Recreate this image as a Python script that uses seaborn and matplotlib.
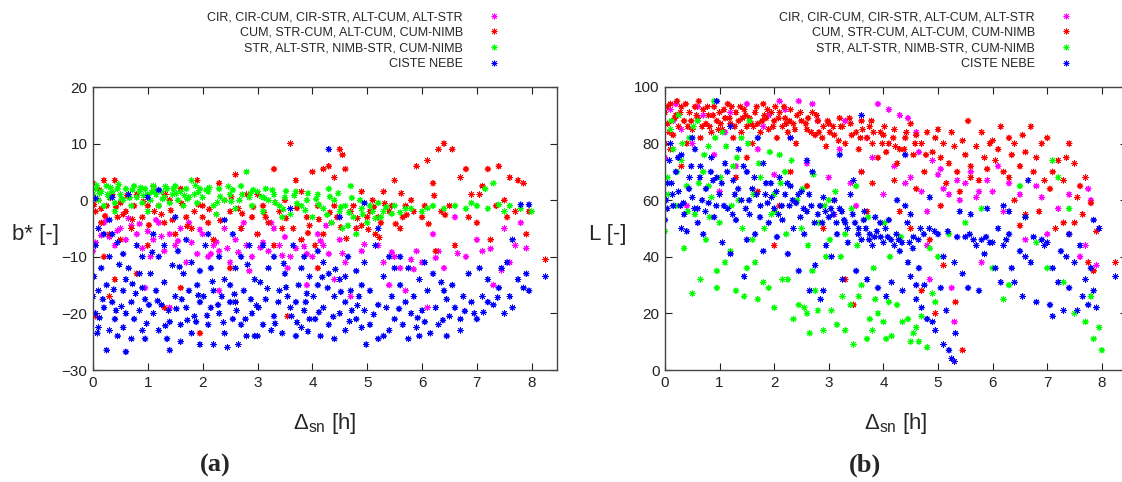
import matplotlib
matplotlib.use("Agg")
import matplotlib.pyplot as plt
import seaborn as sns
import pandas as pd

# ---------------- data ----------------
labels = ["CIR, CIR-CUM, CIR-STR, ALT-CUM, ALT-STR",
          "CUM, STR-CUM, ALT-CUM, CUM-NIMB",
          "STR, ALT-STR, NIMB-STR, CUM-NIMB",
          "CISTE NEBE"]
colors = ["#ff00ff", "#ff0000", "#00ff00", "#0000ff"]

x_ticks = [0, 1, 2, 3, 4, 5, 6, 7, 8]
a_y_ticks = [-30, -20, -10, 0, 10, 20]
b_y_ticks = [0, 20, 40, 60, 80, 100]

# panel (a): b* vs delta_sn
a_magenta = [(0.1,-5),(0.05,-7.5),(0.0,-9),(0.2,-4),(0.3,-6.5),(0.4,-8),(0.5,-5),(0.6,-7),(0.7,-4.5),(0.8,-6),
             (0.9,-8.5),(0.95,-15.5),(1.0,-5.5),(1.1,-7),(1.2,-4),(1.3,-9),(1.4,-6),(1.5,-8),(1.6,-5),(1.7,-11),
             (1.8,-7.5),(1.9,-9.5),(2.0,-6),(2.1,-10),(2.2,-8),(2.3,-9),(2.4,-5),(2.5,-11),(2.6,-7),(2.7,-5),
             (2.8,-8),(2.9,-10),(3.0,-6),(3.1,-7.5),(3.2,-9),(3.3,-5),(3.4,-8),(3.5,-6.5),(3.6,-10),(3.7,-8.5),
             (3.8,-7),(3.9,-9.5),(4.0,-10),(4.1,-6),(4.2,-8),(4.3,-9.5),(4.4,-14),(4.5,-7),(4.6,-11),(4.7,-17),
             (4.8,-5),(4.9,-9),(5.2,-8),(5.3,-11),(5.5,-10),(5.6,-12),(5.7,-16),(5.8,-10.5),(5.9,-9),(6.0,-11),
             (6.1,-19),(6.2,-6),(6.4,-12),(6.6,-3),(6.8,-10),(7.0,-7),(7.1,-9),(7.3,-15),(7.5,-5),(7.7,-8),
             (7.8,-4),(7.9,-8.5),(7.6,-11),(6.3,-9),(5.4,-15),(3.9,-15),(2.3,-16),(1.4,-19),(2.15,-9.5),(2.45,-8.5),
             (0.25,-3.5),(0.65,-3.2),(1.15,-3.5),(1.75,-4),(2.75,-4),(3.25,-4),(4.25,-4.5),(3.55,-12),(2.85,-12.5),(1.05,-10),
             (0.15,-6.2),(0.45,-5.4),(0.85,-4.2),(1.25,-6.4),(1.55,-7.2),(1.95,-5.2),(2.25,-7.4),(2.65,-9.2),(3.05,-8.4),(3.45,-9.8),
             (3.85,-8.2),(4.15,-7.2),(4.55,-9.4),(4.95,-7.8),(5.45,-9.2),(5.85,-12.2),(6.25,-10.2),(6.65,-9.4),(7.25,-8.6),(7.45,-12.4)]
a_red = [(0.0,3),(0.05,-2),(0.1,0),(0.15,-4),(0.2,3.5),(0.25,-1),(0.3,-6),(0.35,1),(0.4,3.5),(0.45,-3),
         (0.5,-7),(0.6,-2),(0.7,-5),(0.8,1),(0.9,-3),(1.0,-8),(1.1,2.5),(1.2,-1),(1.3,-4),(1.4,0),
         (1.5,-6),(1.6,2),(1.7,-3),(1.8,-5),(1.9,3.5),(2.0,-1),(2.1,-4),(2.2,-7),(2.3,3),(2.4,0),
         (2.5,-2),(2.6,4.5),(2.7,-5),(2.8,1),(2.9,-3),(3.0,-6),(3.1,-1),(3.2,-4),(3.3,5.5),(3.4,-2),
         (3.5,0),(3.6,10),(3.65,-5),(3.7,3.5),(3.8,-7),(3.9,-3),(4.0,5),(4.05,-8),(4.1,-1),(4.2,5.5),
         (4.3,6),(4.35,-4),(4.4,4),(4.5,9),(4.55,8),(4.6,5.5),(4.7,-2),(4.8,-5),(4.9,1.5),(5.0,-3),
         (5.1,0),(5.15,-6),(5.3,1.5),(5.4,-2),(5.5,3.5),(5.6,-5),(5.7,-1),(5.8,0),(5.9,6),(6.0,-3),
         (6.1,7),(6.2,3),(6.25,-9),(6.3,9),(6.4,10),(6.5,-1),(6.55,9),(6.6,-8),(6.7,4),(6.8,5.5),
         (6.9,1),(7.0,-4),(7.1,2.5),(7.2,5.5),(7.25,-7),(7.4,6),(7.5,0),(7.6,4),(7.7,-2),(7.75,3.5),
         (7.9,-6),(7.85,3),(8.25,-10.5),(0.05,-20.5),(1.95,-23.5),(0.3,-17),(1.3,-19),(0.2,-10),(0.8,-13),(1.6,-15.5),
         (0.4,-14),(2.5,-12),(3.3,-8),(3.55,-20.5),(2.6,-18),(4.1,-12),(2.0,-3),(1.0,-1),(0.5,-0.5),(3.0,1),
         (4.4,-1),(4.9,-4.5),(5.2,-3),(4.2,-6),(3.8,1.5),(0.15,-1.5),(0.55,-2.5),(0.75,-1),(1.25,-2.5),(1.45,-3.5),
         (1.85,-2),(2.25,-2.5),(2.65,-1.5),(3.15,-3),(3.45,-5),(3.95,-4.5),(4.45,-3),(4.75,-1),(5.05,-2),(5.25,-4),
         (5.45,-1),(5.65,-3),(5.85,-2),(6.05,-1),(6.35,-2),(6.85,-3),(7.05,1),(7.35,-1),(7.55,-3),(7.95,-2),
         (0.02,-0.8),(0.12,1.8),(0.22,-2.8),(0.32,0.4),(0.42,-1.2),(0.62,0.8),(0.72,-3.4),(0.92,-0.2),(1.02,-4.4),(1.12,-2),
         (1.32,1),(1.42,-1.8),(1.62,-0.6),(1.72,-4.6),(1.92,-0.8),(2.12,-1.6),(2.32,-3.6),(2.52,0.6),(2.72,-2.4),(2.92,-1.2),
         (3.12,-2.2),(3.32,-0.4),(3.52,-3.2),(3.72,-1.4),(3.92,-5.8),(4.12,-3.4),(4.32,-2.2),(4.52,-4.8),(4.62,-6.8),(4.82,-3.2),
         (5.02,-5.2),(5.12,-1.2),(5.22,-6.6),(5.32,-0.6),(5.52,-4.2),(5.62,1.2),(5.72,-2.6),(6.12,-4.2),(6.22,0.8),(6.42,-2.6)]
a_green = [(0.0,1),(0.05,2),(0.1,0),(0.15,1.5),(0.2,-1),(0.25,2.5),(0.3,0.5),(0.35,1.5),(0.4,-0.5),(0.45,2),
           (0.5,1),(0.55,0),(0.6,2),(0.65,1),(0.7,-1),(0.75,2.5),(0.8,0.5),(0.85,1.5),(0.9,-0.5),(0.95,2),
           (1.0,1),(1.05,0),(1.1,2.5),(1.15,1),(1.2,-1),(1.25,1.5),(1.3,0.5),(1.35,2),(1.4,-0.5),(1.45,1),
           (1.5,2.5),(1.55,0),(1.6,1.5),(1.65,-1),(1.7,2),(1.75,0.5),(1.8,3.5),(1.85,1),(1.9,-0.5),(1.95,2),
           (2.0,0.5),(2.1,1.5),(2.2,-1),(2.3,2),(2.4,0),(2.5,1),(2.6,-1.5),(2.7,2.5),(2.8,5),(2.85,0.5),
           (2.9,-1),(3.0,1.5),(3.1,-2),(3.2,0),(3.3,1),(3.4,-1),(3.5,0.5),(3.6,-2.5),(3.7,1.5),(3.8,-1),
           (3.9,0),(4.0,-3),(4.1,1),(4.2,-1.5),(4.3,2),(4.35,-4),(4.4,0),(4.5,-2),(4.55,-5),(4.6,-1),
           (4.7,2.5),(4.75,-3),(4.8,-6),(4.9,-1.5),(5.0,-4),(5.1,-2),(5.2,-0.5),(5.3,-2),(5.5,-1),(5.8,-1.5),
           (6.0,-2),(6.2,-1),(6.4,-1.5),(6.6,-1),(6.8,-1.5),(7.0,-1),(7.15,2),(7.3,3),(7.5,-2),(7.6,-1),
           (7.8,-1.5),(8.0,-2),(7.2,-1.5),(6.9,-0.5),(5.7,-1.5),(3.15,2),(2.55,1.8),(0.4,-2),(1.0,-2),(3.45,-3),
           (2.25,-2.5),(4.65,-4.5),(0.12,1.2),(0.32,2.2),(0.52,0.2),(0.72,1.8),(0.92,0.8),(1.12,1.6),(1.32,2.4),(1.52,1.2),
           (1.72,0.2),(1.92,1.4),(2.12,2.2),(2.32,0.6),(2.52,-0.2),(2.72,1.0),(2.92,1.8),(3.12,0.4),(3.32,-0.4),(3.52,1.6),
           (3.72,-0.6),(3.92,1.2),(4.12,-0.8),(4.32,0.6),(4.52,-1.2),(4.72,0.4),(4.92,-2.5),(5.15,-3.2),(5.35,-1.2),(5.6,-2.2),
           (0.07,2.6),(0.27,1.0),(0.47,2.8),(0.67,0.4),(0.87,2.2),(1.07,1.4),(1.27,0.2),(1.47,2.0),(1.67,0.8),(1.87,2.6),
           (2.07,1.8),(2.27,-0.4),(2.47,2.4),(2.67,0.0),(2.87,1.2),(3.07,0.6),(3.27,1.8),(3.47,-1.6),(3.67,0.8),(3.87,-1.8),
           (4.07,0.2),(4.27,-2.6),(4.47,1.2),(4.67,-2.2),(4.87,0.0),(5.05,-1.0),(5.25,-3.0),(5.45,-2.4),(6.1,-1.4),(7.4,-0.8)]
a_blue = [(0.1,-5),(0.2,-6),(0.05,-8),(0.3,-10),(0.15,-12),(0.02,-13.5),(0.25,-15),(0.1,-16),(0.0,-17),(0.35,-18),
          (0.2,-19),(0.05,-20),(0.4,-21),(0.1,-22.5),(0.08,-23.5),(0.3,-23),(0.45,-24),(0.25,-26.5),(0.6,-26.8),(0.55,-22.5),
          (0.7,-24.5),(0.6,-20),(0.7,-18),(0.55,-16),(0.6,-14),(0.65,-12),(0.55,-9.5),(0.45,-7.5),(0.35,-6),(0.8,-8),
          (0.9,-10),(0.85,-13),(0.9,-15.5),(0.95,-17.5),(0.85,-19.5),(0.75,-21),(0.9,-23),(0.95,-24.5),(0.35,0.5),(0.65,1),
          (0.05,0.3),(0.3,-3.5),(1.1,-6),(1.3,-8),(1.2,-10),(1.45,-11.5),(1.05,-13),(1.3,-14.5),(1.15,-16),(1.5,-17),
          (1.25,-18.5),(1.1,-20),(1.4,-21.5),(1.2,-23),(1.35,-24.5),(1.4,-26.5),(1.6,-25),(1.6,-22),(1.7,-19),(1.75,-16),
          (1.65,-13),(1.8,-11),(1.55,-9),(1.7,-7),(1.9,-15),(1.95,-18),(1.85,-20.5),(1.8,-23.5),(1.95,-25.5),(1.95,-12.5),
          (1.2,1.8),(1.0,0.5),(1.5,-3),(2.1,-6),(2.05,-8),(2.3,-10),(2.15,-12),(2.4,-14),(2.2,-16),(2.5,-18),
          (2.3,-20),(2.1,-22),(2.4,-23.5),(2.2,-25.5),(2.45,-26),(2.65,-25.5),(2.8,-24),(2.7,-22),(2.9,-20),(2.6,-18),
          (2.75,-16),(2.95,-14),(2.6,-12),(2.7,-10),(2.85,-8),(2.55,-6),(2.4,-3.5),(2.95,-24),(2.15,-19),(2.35,-17),
          (2.55,-21),(2.5,-15),(3.1,-8),(3.3,-10),(3.2,-12),(3.5,-13),(3.05,-14.5),(3.4,-16),(3.15,-17.5),(3.6,-19),
          (3.3,-20.5),(3.1,-22),(3.45,-23.5),(3.7,-24),(3.8,-22.5),(3.95,-21),(3.85,-19.5),(3.7,-18),(3.9,-16.5),(3.75,-15),
          (3.95,-13.5),(3.8,-12),(3.85,-10),(3.65,-8),(3.6,-1.5),(3.25,-23),(3.0,-24),(3.55,-17),(4.1,-9),(4.2,-11),
          (4.3,-13),(4.5,-14),(4.1,-15),(4.7,-16),(4.4,-17),(4.6,-18),(4.2,-19),(4.5,-20),(4.8,-21),(4.3,-22),
          (4.6,-23),(4.15,-24),(4.4,-24.5),(4.9,-22.5),(4.05,-21),(4.8,-12.5),(4.95,-11),(4.65,-10),(4.9,-15),(4.6,-13.5),
          (4.3,9),(4.5,-3),(4.95,-0.5),(4.98,-25.5),(4.85,-17),(4.95,-19.5),(5.2,-5),(5.15,-8),(5.4,-10),(5.5,-12),
          (5.3,-13.5),(5.6,-15),(5.05,-16),(5.45,-17),(5.7,-18),(5.35,-19),(5.8,-20),(5.5,-21),(5.65,-22),(5.4,-23),
          (5.3,-24),(5.2,-24.5),(5.75,-24.5),(5.95,-24),(5.9,-22.5),(6.0,-19.5),(5.85,-17),(5.95,-14),(5.75,-12),(5.6,-10),
          (5.05,-22),(5.2,-18.5),(6.05,-11),(6.2,-13),(6.35,-14.5),(6.1,-16),(6.45,-17.5),(6.25,-19),(6.5,-20.5),(6.3,-22),
          (6.15,-23.5),(6.45,-24),(6.7,-21),(6.6,-19),(6.75,-17),(6.55,-15),(6.85,-13),(6.9,-18),(6.95,-20),(6.7,-23),
          (6.4,-16),(6.05,-21.5),(7.05,-12),(7.2,-14),(7.4,-15.5),(7.1,-17),(7.3,-18.5),(7.5,-20),(7.0,-21),(7.65,-19),
          (7.6,-17),(7.85,-15.5),(7.75,-14),(7.9,-13),(7.95,-16),(7.45,-12),(7.65,-7),(7.8,-0.8),(7.95,-0.8),(8.25,-13.5),
          (7.2,-18),(7.55,-11),(0.18,-17.5),(0.42,-19.5),(0.78,-16.5),(1.02,-18.5),(1.38,-19.5),(1.62,-17.5),(1.88,-21.5),(2.02,-17),
          (2.28,-18.5),(2.62,-19.5),(2.88,-17.5),(3.02,-19),(3.38,-18),(3.62,-20.5),(3.88,-18),(4.02,-17),(4.28,-15.5),(4.72,-19.5),
          (0.12,-20.8),(0.38,-15.8),(0.52,-18.8),(0.72,-14.8),(0.98,-21.8),(1.18,-17.8),(1.32,-22.2),(1.52,-19.2),(1.72,-21.2),(1.92,-16.8),
          (2.08,-20.4),(2.18,-14.4),(2.38,-21.6),(2.58,-16.6),(2.78,-21.0),(2.98,-18.6),(3.18,-15.6),(3.32,-21.8),(3.52,-15.4),(3.72,-21.6),
          (3.92,-23.2),(4.12,-19.8),(4.38,-20.6),(4.52,-16.2),(4.68,-21.4),(4.82,-18.6),(4.42,-12.2),(4.18,-13.6),(3.48,-11.2),(2.82,-11.4),
          (1.58,-11.8),(1.08,-9.2),(0.48,-11.4),(5.12,-20.2),(5.58,-19.2),(5.92,-20.8),(6.38,-21.2),(6.78,-19.6),(7.12,-19.8),(7.38,-17.2)]

# panel (b): L vs delta_sn
b_magenta = [(0.0,75),(0.1,92),(0.2,94),(0.3,85),(0.5,80),(0.7,90),(0.9,76),(1.1,84),(1.3,72),(1.5,94),
             (1.7,78),(1.9,90),(2.1,95),(2.3,82),(2.45,95),(2.6,73),(2.8,88),(3.0,68),(3.2,78),(3.4,66),
             (3.6,70),(3.8,75),(3.9,94),(4.0,62),(4.1,92),(4.3,90),(4.2,72),(4.4,66),(4.5,68),(4.6,84),
             (4.7,63),(4.8,56),(4.9,74),(5.0,69),(5.1,64),(5.2,62),(5.3,17),(5.25,29),(5.4,60),(5.5,66),
             (5.6,70),(5.7,61),(5.8,38),(5.9,67),(6.0,63),(6.1,72),(6.3,66),(6.5,62),(6.6,46),(6.8,65),
             (6.9,61),(7.0,48),(7.2,57),(7.4,62),(7.6,40),(7.7,44),(7.8,60),(7.75,64),(7.9,37),(1.0,63),
             (2.0,69),(0.4,58),(3.1,55),(3.5,58),(6.2,56),(4.8,44),(4.85,32),(0.15,88),(0.6,93),(1.2,91),
             (1.8,86),(2.2,92),(2.7,94),(3.3,88),(3.7,82),(4.45,89),(4.65,77),(5.05,71),(5.35,67),(5.75,63)]
b_red = [(0.0,91),(0.05,87),(0.1,94),(0.15,83),(0.2,90),(0.25,86),(0.3,93),(0.35,88),(0.4,80),(0.45,91),
         (0.5,85),(0.55,93),(0.6,89),(0.65,82),(0.7,92),(0.75,87),(0.8,90),(0.85,84),(0.9,93),(0.95,88),
         (0.1,78),(0.3,72),(0.0,80),(1.0,91),(1.05,85),(1.1,89),(1.15,94),(1.2,87),(1.25,82),(1.3,91),
         (1.35,88),(1.4,84),(1.45,92),(1.5,86),(1.55,89),(1.6,80),(1.65,91),(1.7,87),(1.75,84),(1.8,94),
         (1.85,89),(1.9,85),(1.95,91),(1.3,68),(1.7,63),(1.5,75),(2.0,88),(2.05,82),(2.1,91),(2.15,86),
         (2.2,89),(2.25,84),(2.3,92),(2.35,87),(2.4,80),(2.5,88),(2.6,85),(2.7,91),(2.75,83),(2.8,88),
         (2.9,86),(2.95,79),(2.3,70),(2.6,65),(2.1,58),(2.9,50),(2.0,44),(3.0,87),(3.1,83),(3.2,89),
         (3.25,86),(3.3,80),(3.4,87),(3.5,84),(3.55,78),(3.6,88),(3.7,82),(3.75,86),(3.8,80),(3.9,75),
         (3.95,84),(3.3,32),(3.6,70),(3.8,66),(3.45,23),(3.1,60),(3.7,56),(4.0,83),(4.05,77),(4.1,80),
         (4.2,85),(4.25,73),(4.3,78),(4.4,82),(4.5,87),(4.55,76),(4.6,83),(4.7,80),(4.75,70),(4.8,84),
         (4.9,77),(4.95,82),(4.2,67),(4.6,64),(4.85,46),(4.7,28),(4.95,20),(4.3,56),(4.5,50),(5.0,85),
         (5.05,75),(5.1,80),(5.15,66),(5.2,73),(5.25,84),(5.3,79),(5.35,70),(5.4,63),(5.45,81),(5.5,76),
         (5.55,88),(5.6,72),(5.7,79),(5.75,67),(5.8,84),(5.85,75),(5.9,71),(5.95,80),(5.3,3),(5.32,24),
         (5.1,37),(5.45,7),(5.6,68),(5.05,58),(6.0,81),(6.05,74),(6.1,78),(6.15,86),(6.2,70),(6.3,82),
         (6.35,76),(6.4,80),(6.5,72),(6.55,83),(6.6,77),(6.7,86),(6.75,70),(6.8,75),(6.9,80),(6.95,67),
         (6.4,60),(6.6,55),(6.5,51),(6.85,56),(6.3,68),(7.0,82),(7.05,64),(7.1,70),(7.2,74),(7.3,67),
         (7.35,75),(7.4,80),(7.5,73),(7.55,61),(7.6,65),(7.65,55),(7.7,68),(7.8,59),(7.9,49),(7.85,35),
         (7.75,38),(7.5,52),(7.3,52),(7.15,50),(8.25,38),(7.95,50),(7.4,48),(0.08,84),(0.22,95),(0.42,86),
         (0.62,95),(0.82,86),(1.02,87),(1.22,93),(1.42,89),(1.62,86),(1.82,90),(2.02,93),(2.22,87),(2.42,90),
         (2.62,89),(2.82,84),(3.02,84),(3.22,86),(3.42,83),(3.62,85),(3.82,84),(4.02,86),(4.22,79),(4.42,84),
         (0.04,93),(0.18,89),(0.28,91),(0.38,94),(0.48,88),(0.58,90),(0.68,86),(0.78,93),(0.88,90),(0.98,85),
         (1.08,92),(1.18,89),(1.28,86),(1.38,93),(1.48,90),(1.58,87),(1.68,93),(1.78,88),(1.88,92),(1.98,86),
         (2.08,89),(2.18,93),(2.28,88),(2.38,85),(2.48,91),(2.58,87),(2.68,84),(2.78,90),(2.88,82),(2.98,88),
         (3.08,86),(3.18,81),(3.38,89),(3.58,82),(3.78,88),(3.98,80),(4.18,82),(4.38,78),(4.58,80),(4.78,76)]
b_green = [(0.0,49),(0.05,68),(0.1,85),(0.15,78),(0.2,58),(0.25,90),(0.3,74),(0.35,43),(0.4,65),(0.45,82),
           (0.5,27),(0.55,55),(0.6,88),(0.65,32),(0.7,70),(0.75,46),(0.8,79),(0.85,61),(0.9,95),(0.95,35),
           (0.95,29),(1.0,52),(1.05,84),(1.1,38),(1.2,42),(1.25,72),(1.3,28),(1.35,60),(1.45,26),(1.5,36),
           (1.55,88),(1.6,46),(1.65,38),(1.7,25),(1.75,68),(1.8,31),(1.9,29),(1.95,55),(2.0,22),(2.1,76),
           (2.15,32),(2.25,32),(2.35,18),(2.45,23),(2.5,50),(2.55,22),(2.6,20),(2.65,13),(2.7,35),(2.75,28),
           (2.8,21),(2.9,14),(2.95,40),(3.0,60),(3.05,21),(3.15,16),(3.25,26),(3.3,14),(3.4,23),(3.45,9),
           (3.55,26),(3.6,30),(3.7,11),(3.75,18),(3.8,14),(3.85,25),(3.9,20),(4.0,17),(4.05,11),(4.1,24),
           (4.15,12),(4.25,23),(4.35,17),(4.45,18),(4.5,10),(4.55,13),(4.6,15),(4.65,10),(4.7,19),(4.8,8),
           (4.9,27),(4.95,24),(4.85,43),(5.0,40),(5.2,48),(5.5,52),(5.8,57),(6.0,36),(6.2,25),(6.3,30),
           (6.5,65),(6.6,54),(6.8,45),(7.0,36),(7.1,74),(7.2,68),(7.4,57),(7.5,20),(7.7,17),(7.8,26),
           (7.85,11),(7.95,15),(8.0,7),(7.3,31),(3.5,65),(2.2,70),(1.4,82),(0.8,65),(2.0,62),(3.3,48),
           (0.12,88),(0.32,80),(0.52,86),(0.72,76),(0.92,82),(1.12,79),(1.32,75),(1.52,80),(1.72,73),(1.92,77),
           (2.12,66),(2.32,74),(2.52,64),(2.72,69),(2.92,58),(3.12,63),(3.42,57),(3.72,54),(4.02,52),(4.32,47),
           (0.06,62),(0.22,70),(0.42,56),(0.62,66),(0.82,54),(1.02,68),(1.22,58),(1.42,50),(1.62,62),(1.82,50),
           (2.02,56),(2.22,48),(2.42,60),(2.62,44),(2.82,52),(3.02,46),(3.22,40),(3.52,44),(3.82,36),(4.12,40)]
b_blue = [(0.0,53),(0.02,60),(0.05,66),(0.08,74),(0.1,80),(0.15,58),(0.2,70),(0.25,63),(0.3,76),(0.35,55),
          (0.4,49),(0.45,68),(0.5,61),(0.55,78),(0.6,57),(0.65,72),(0.7,48),(0.75,64),(0.8,59),(0.85,75),
          (0.9,54),(0.95,68),(0.95,95),(0.3,50),(0.6,52),(0.5,82),(1.0,62),(1.05,45),(1.1,73),(1.15,57),
          (1.2,41),(1.25,67),(1.3,53),(1.35,78),(1.4,60),(1.45,33),(1.5,70),(1.55,55),(1.6,64),(1.65,48),
          (1.7,82),(1.75,58),(1.8,42),(1.85,66),(1.9,52),(1.95,61),(1.2,86),(1.5,46),(1.8,73),(2.0,57),
          (2.05,47),(2.1,68),(2.15,53),(2.2,62),(2.25,41),(2.3,65),(2.35,50),(2.4,59),(2.45,35),(2.5,63),
          (2.55,48),(2.6,56),(2.65,28),(2.7,70),(2.75,37),(2.8,55),(2.85,25),(2.9,61),(2.95,44),(2.3,82),
          (2.6,74),(2.9,28),(3.0,54),(3.05,40),(3.1,60),(3.15,48),(3.2,57),(3.25,32),(3.3,52),(3.35,45),
          (3.4,62),(3.5,35),(3.55,50),(3.6,46),(3.65,56),(3.7,32),(3.75,48),(3.8,44),(3.85,54),(3.9,29),
          (3.95,47),(3.6,90),(3.2,76),(3.45,67),(4.0,45),(4.05,26),(4.1,53),(4.15,31),(4.2,44),(4.25,60),
          (4.3,42),(4.35,28),(4.4,58),(4.45,38),(4.5,33),(4.55,47),(4.6,25),(4.65,36),(4.7,22),(4.75,30),
          (4.8,18),(4.85,61),(4.9,17),(4.95,14),(4.5,55),(4.4,76),(4.6,30),(5.0,48),(5.05,29),(5.1,9),
          (5.15,21),(5.2,7),(5.25,4),(5.3,3),(5.32,13),(5.35,47),(5.4,56),(5.45,34),(5.5,47),(5.55,29),
          (5.6,55),(5.65,46),(5.7,44),(5.75,28),(5.8,46),(5.85,41),(5.9,57),(5.95,45),(5.1,40),(5.3,38),
          (6.0,45),(6.05,36),(6.1,50),(6.15,31),(6.2,44),(6.3,48),(6.35,36),(6.4,31),(6.5,42),(6.55,26),
          (6.6,40),(6.65,67),(6.7,38),(6.75,47),(6.8,24),(6.9,46),(6.95,44),(6.3,56),(6.6,54),(6.2,58),
          (7.0,45),(7.05,23),(7.1,36),(7.2,31),(7.25,42),(7.3,21),(7.35,40),(7.4,29),(7.5,38),(7.55,21),
          (7.6,44),(7.65,26),(7.7,32),(7.75,23),(7.8,36),(7.85,28),(7.9,22),(7.95,50),(7.85,53),(8.25,33),
          (7.4,48),(7.1,19),(0.12,66),(0.28,58),(0.48,72),(0.68,60),(0.88,67),(1.08,58),(1.28,62),(1.48,57),
          (1.68,62),(1.88,59),(2.08,55),(2.28,58),(2.48,54),(2.68,58),(2.88,52),(3.08,55),(3.28,53),(3.48,52),
          (3.68,50),(3.88,49),(4.08,47),(4.28,46),(4.48,45),(4.68,50),(5.18,49),(5.58,48),(5.88,47),(6.25,46),
          (0.04,57),(0.14,62),(0.24,75),(0.34,59),(0.44,64),(0.54,57),(0.64,68),(0.74,56),(0.84,70),(0.94,58),
          (1.04,66),(1.14,70),(1.24,55),(1.34,64),(1.44,72),(1.54,60),(1.64,68),(1.74,54),(1.84,62),(1.94,66),
          (2.04,63),(2.14,58),(2.24,66),(2.34,60),(2.44,62),(2.54,57),(2.64,62),(2.74,52),(2.84,58),(2.94,56),
          (3.04,57),(3.14,52),(3.24,56),(3.34,50),(3.44,55),(3.54,48),(3.64,53),(3.74,46),(3.84,47),(3.94,52),
          (4.04,50),(4.14,46),(4.24,48),(4.34,45),(4.44,52),(4.54,43),(4.64,46),(4.74,48),(4.84,50),(4.94,49)]

# ---------------- build tables ----------------
def make_df(series):
    rows = []
    for lab, pts in zip(labels, series):
        for x, y in pts:
            rows.append({"x": x, "y": y, "grp": lab})
    return pd.DataFrame(rows)

df_a = make_df([a_magenta, a_red, a_green, a_blue])
df_b = make_df([b_magenta, b_red, b_green, b_blue])

# ---------------- style ----------------
sns.set_theme(style="ticks")
plt.rcParams["font.family"] = ["Liberation Sans", "DejaVu Sans"]
plt.rcParams["mathtext.fontset"] = "custom"
plt.rcParams["mathtext.rm"] = "Liberation Sans"
plt.rcParams["mathtext.it"] = "Liberation Sans:italic"

fig = plt.figure(figsize=(11.22, 4.82), dpi=100)
W, H = 1122, 482
ax_a = fig.add_axes([93 / W, 112 / H, 464 / W, 283 / H])
ax_b = fig.add_axes([665 / W, 112 / H, 462 / W, 283 / H])

palette = dict(zip(labels, colors))
asterisk = (8, 2, 0)

panels = [(ax_a, df_a, a_y_ticks, (-30, 20), "b* [-]", 8.46, 503, "(a)", 215),
          (ax_b, df_b, b_y_ticks, (0, 100), "L [-]", 8.46, 1075, "(b)", 865)]

for ax, df, yt, ylim, ylab, xmax, leg_x, tag, tag_x in panels:
    sns.scatterplot(data=df, x="x", y="y", hue="grp", hue_order=labels, palette=palette,
                    marker=asterisk, s=17, linewidth=0.6, ax=ax, legend=True)
    ax.set_xlim(0, xmax)
    ax.set_ylim(*ylim)
    ax.set_xticks(x_ticks)
    ax.set_yticks(yt)
    ax.tick_params(direction="in", length=5, width=0.8, top=True, right=True,
                   labelsize=11, pad=4, colors="#222222")
    for sp in ax.spines.values():
        sp.set_visible(True)
        sp.set_color("#444444")
        sp.set_linewidth(1.0)
    ax.set_xlabel(r"$\Delta_{\mathrm{sn}}$ [h]", fontsize=16)
    ax.xaxis.set_label_coords(0.5, -0.145)
    ax.set_ylabel(ylab, fontsize=16, rotation=0, ha="center", va="center")
    ax.yaxis.set_label_coords(-0.124, 0.48)
    sns.move_legend(ax, "upper right", bbox_to_anchor=(leg_x / W, 1 - 11 / H),
                    bbox_transform=fig.transFigure, title=None, frameon=False,
                    markerfirst=False, fontsize=9, handlelength=1.4, handletextpad=1.8,
                    labelspacing=0.3, borderpad=0, borderaxespad=0, markerscale=1.0)
    fig.text(tag_x / W, 1 - 465 / H, tag, ha="center", va="center", fontsize=19,
             fontweight="bold", family=["Liberation Serif", "DejaVu Serif"])

fig.savefig("out.png", dpi=100)
